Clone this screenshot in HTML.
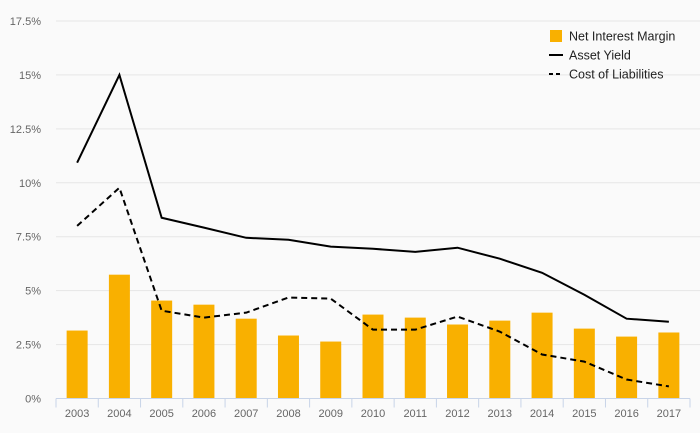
<!DOCTYPE html>
<html><head><meta charset="utf-8"><style>
body{margin:0;background:#fafafa;font-family:"Liberation Sans",sans-serif}
svg{display:block}
</style></head><body>
<svg id="c" width="700" height="433"></svg>
<script>
const years=["2003","2004","2005","2006","2007","2008","2009","2010","2011","2012","2013","2014","2015","2016","2017"];
const nim=[3.15,5.74,4.54,4.35,3.7,2.92,2.64,3.89,3.75,3.43,3.61,3.98,3.24,2.87,3.06];
const assetYield=[10.93,15.0,8.38,7.92,7.45,7.36,7.04,6.94,6.8,6.99,6.48,5.83,4.81,3.7,3.56];
const costLiab=[8.0,9.77,4.07,3.75,3.98,4.68,4.63,3.19,3.19,3.8,3.1,2.04,1.71,0.88,0.56];
const ticks=[0,2.5,5,7.5,10,12.5,15,17.5];
const tickLabels=["0%","2.5%","5%","7.5%","10%","12.5%","15%","17.5%"];
const svg=document.getElementById('c');const NS="http://www.w3.org/2000/svg";
const x0=56,x1=690,y0=398.5,yTop=21;
const band=(x1-x0)/years.length;
const X=i=>x0+band*(i+0.5);
const Y=v=>y0-(v/17.5)*(y0-yTop);
function mk(t,a,txt){const e=document.createElementNS(NS,t);for(const k in a)e.setAttribute(k,a[k]);if(txt!=null)e.textContent=txt;svg.appendChild(e);return e;}
ticks.forEach((t,i)=>{
 if(t>0){const g=mk('line',{x1:x0,x2:700,y1:Y(t),y2:Y(t),stroke:'#e6e6e6','stroke-width':1});
 
 }
 const l=mk('text',{x:41,y:Y(t)+4,'text-anchor':'end','font-size':11,fill:'#666'},tickLabels[i]);
 
 
});
years.forEach((yr,i)=>{
 const b=mk('rect',{x:X(i)-10.5,y:Y(nim[i]),width:21,height:y0-Y(nim[i]),fill:'#f9b000'});
 
 
 const t=mk('text',{x:X(i),y:417,'text-anchor':'middle','font-size':11,fill:'#666'},yr);
 
 
});
const ax=mk('line',{x1:x0,x2:x1,y1:y0,y2:y0,stroke:'#c8d4e8','stroke-width':1});


for(let i=0;i<=years.length;i++){const tk=mk('line',{x1:x0+band*i,x2:x0+band*i,y1:y0,y2:y0+9,stroke:'#c8d4e8'});
 
 }
const p1=mk('polyline',{points:assetYield.map((v,i)=>X(i)+','+Y(v)).join(' '),fill:'none',stroke:'#000','stroke-width':2});


const p2=mk('polyline',{points:costLiab.map((v,i)=>X(i)+','+Y(v)).join(' '),fill:'none',stroke:'#000','stroke-width':2,'stroke-dasharray':'6,4'});


const lg=[["Net Interest Margin","bar"],["Asset Yield","solid"],["Cost of Liabilities","dash"]];
lg.forEach((e,i)=>{const y=36+i*19;
 let m;
 if(e[1]=="bar")m=mk('rect',{x:550,y:y-6,width:12,height:12,fill:'#f9b000'});
 else m=mk('line',{x1:549,x2:563,y1:y,y2:y,stroke:'#000','stroke-width':2,'stroke-dasharray':e[1]=="dash"?'4,3':'none'});
 
 
 const t=mk('text',{x:569,y:y+4.5,'font-size':12.5,fill:'#222'},e[0]);
 
 
});
</script>
</body></html>
